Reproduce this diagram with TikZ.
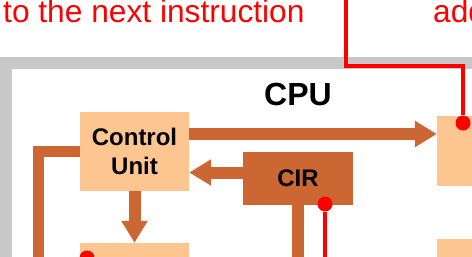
\documentclass[tikz,border=0pt]{standalone}
\usepackage{fontspec}
\setmainfont{Liberation Sans}
\usetikzlibrary{arrows.meta}
\definecolor{lightorange}{RGB}{253,197,143}
\definecolor{darkorange}{RGB}{204,102,51}
\definecolor{framegray}{RGB}{200,200,200}
\begin{document}
\begin{tikzpicture}[x=1pt,y=-1pt,
  fat/.style={darkorange, line width=12pt, -{Triangle[length=22pt,width=25pt]}},
  bus/.style={darkorange, line width=11pt},
  wire/.style={red, line width=3.5pt},
  dot/.style={circle, fill=red, inner sep=0pt, minimum size=15pt},
  unit/.style={fill=lightorange, inner sep=0pt, align=center, font=\bfseries\fontsize{24}{29}\selectfont}]
\clip (0,0) rectangle (472,257);
\fill[framegray] (0,57) rectangle (520,320);
\fill[white] (12,69) rectangle (520,320);
\node[red, anchor=base west, inner sep=0pt, font=\fontsize{31.7}{36}\selectfont] (note) at (3,22.5) {to the next instruction};
\node[red, anchor=base west, inner sep=0pt, font=\fontsize{31.7}{36}\selectfont] (addr) at (433,22.5) {address};
\node[anchor=base, inner sep=0pt, font=\bfseries\fontsize{32}{36}\selectfont] (cpu) at (298,105) {CPU};
\node[unit, minimum width=109pt, minimum height=79pt] (cu) at (134.5,151.5) {Control\\Unit};
\node[unit, minimum width=109pt, minimum height=60pt] (dec) at (134.5,273) {};
\node[unit, minimum width=80pt, minimum height=70pt] (reg) at (477,151) {};
\node[unit, minimum width=80pt, minimum height=60pt] (alu) at (477,269) {};
\node[unit, fill=darkorange, minimum width=110pt, minimum height=53pt] (cir) at (298,178.5) {CIR};
\coordinate (busend) at (38.5,270);
\coordinate (cirend) at (298,270);
\draw[fat] (cu.east |- 0,134) -- (reg.west |- 0,134);
\draw[fat] (cir.west |- 0,172.5) -- (cu.east |- 0,172.5);
\draw[fat] (cu.south) -- (dec.north);
\draw[bus] (cu.west) -| (busend);
\draw[bus, line width=12pt] (cir.south) -- (cirend);
\coordinate (wtop) at (346,-5);
\coordinate (bend) at (463,66);
\coordinate (wbot) at (325,270);
\node[dot] (d1) at (463,123) {};
\node[dot] (d2) at (325,204) {};
\node[dot] (d3) at (87,258) {};
\draw[wire] (wtop) |- (bend) -- (d1);
\draw[wire] (d2) -- (wbot);
\end{tikzpicture}
\end{document}
